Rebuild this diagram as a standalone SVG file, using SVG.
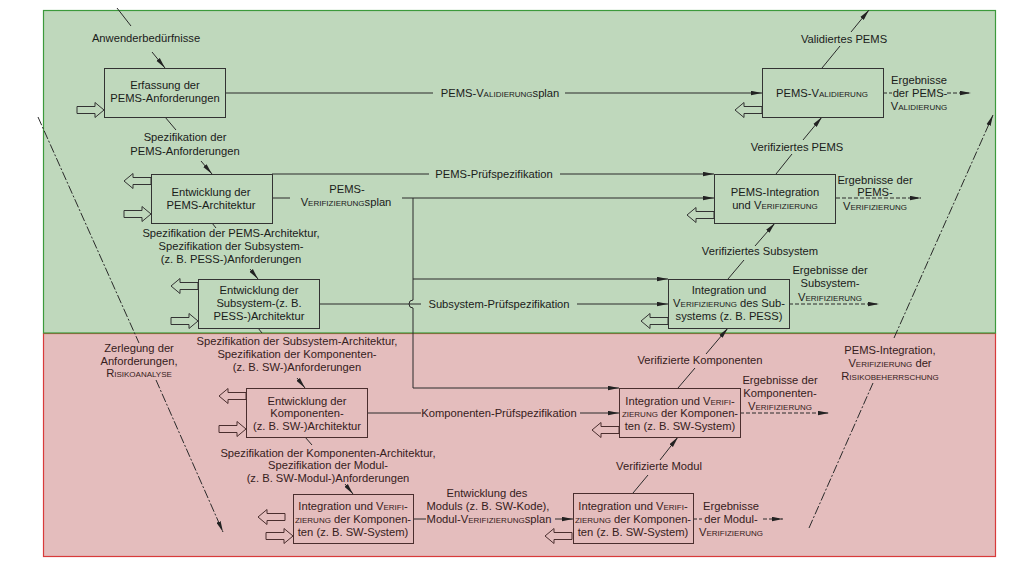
<svg xmlns="http://www.w3.org/2000/svg" xmlns:xlink="http://www.w3.org/1999/xlink" width="1024" height="565" viewBox="0 0 1024 565">
<style>
.t{font-family:"Liberation Sans",Arial,sans-serif;font-size:11.2px;text-anchor:middle;fill:#1a201a}
.rd .t{fill:#362020}
.sc{font-variant:small-caps}
.box{fill:none;stroke:#333;stroke-width:1}
.rd .box{stroke:#4a2e2e}
.ha{fill:none;stroke:#333;stroke-width:1}
.rd .ha{stroke:#4a2e2e}
.ln{fill:none;stroke:#2a2a2a;stroke-width:1}
.ds{stroke-dasharray:4 2}
.dd{stroke-dasharray:9 2 2 2}
</style>
<defs>
<marker id="ah" markerWidth="11" markerHeight="5" refX="11" refY="2.5" orient="auto" markerUnits="userSpaceOnUse">
<path d="M0,0.3 L11,2.5 L0,4.7 Z" fill="#222"/>
</marker>
<path id="ha" d="M-27,-3.5 H-9 V-7.5 L0,0 L-9,7.5 V3.5 H-27 Z"/>
</defs>

<g id="background">
<rect x="43.5" y="333.5" width="952" height="223" fill="#e4bdbd" stroke="#d83a3a" stroke-width="1.2"/>
<rect x="43.5" y="10.5" width="952" height="322.5" fill="#bfd8bc" stroke="#3c9a3c" stroke-width="1.2"/>
</g>

<g id="connectors">
<path class="ln" d="M117,8 L131,26"/>
<path class="ln" d="M152,52 L165,68" marker-end="url(#ah)"/>
<path class="ln" d="M165,117 L176,130"/>
<path class="ln" d="M201,161 L212,174" marker-end="url(#ah)"/>
<path class="ln" d="M225,93 H433"/>
<path class="ln" d="M565,93 H762" marker-end="url(#ah)"/>
<path class="ln" d="M822,68 L840,46"/>
<path class="ln" d="M851,32 L869,10" marker-end="url(#ah)"/>
<path class="ln ds" d="M883,93 H892"/>
<path class="ln ds" d="M947,93 H971" marker-end="url(#ah)"/>
<path class="ln" d="M776,174 L792,154"/>
<path class="ln" d="M803,140 L822,117" marker-end="url(#ah)"/>
<path class="ln" d="M272,174 H429"/>
<path class="ln" d="M560,174 H714" marker-end="url(#ah)"/>
<path class="ln" d="M272,198 H290"/>
<path class="ln" d="M402,198 H714" marker-end="url(#ah)"/>
<path class="ln" d="M413,198 V300 A4,4 0 0 0 413,308 V388 H619" marker-end="url(#ah)"/>
<path class="ln" d="M413,279 H668" marker-end="url(#ah)"/>
<path class="ln ds" d="M836,198 H921" marker-end="url(#ah)"/>
<path class="ln" d="M212,223 L216,228"/>
<path class="ln" d="M250,269 L258,279" marker-end="url(#ah)"/>
<path class="ln" d="M319,304 H421"/>
<path class="ln" d="M577,304 H668" marker-end="url(#ah)"/>
<path class="ln" d="M728,279 L744,260"/>
<path class="ln" d="M755,246 L775,223" marker-end="url(#ah)"/>
<path class="ln ds" d="M789,304 H879" marker-end="url(#ah)"/>
<path class="ln" d="M258,328 L262,333"/>
<path class="ln" d="M297,378 L305,388" marker-end="url(#ah)"/>
<path class="ln" d="M367,413 H421"/>
<path class="ln" d="M580,413 H619" marker-end="url(#ah)"/>
<path class="ln" d="M678,388 L695,368"/>
<path class="ln" d="M706,354 L728,328" marker-end="url(#ah)"/>
<path class="ln ds" d="M740,413 H829" marker-end="url(#ah)"/>
<path class="ln" d="M305,437 L312,445"/>
<path class="ln" d="M345,484 L353,494" marker-end="url(#ah)"/>
<path class="ln" d="M413,519 H426"/>
<path class="ln" d="M555,519 H573" marker-end="url(#ah)"/>
<path class="ln" d="M633,493 L648,475"/>
<path class="ln" d="M660,460 L678,437" marker-end="url(#ah)"/>
<path class="ln ds" d="M693,519 H702"/>
<path class="ln ds" d="M763,519 H783" marker-end="url(#ah)"/>
<path class="ln dd" d="M38,117 L139,343"/>
<path class="ln dd" d="M156,380 L223,532" marker-end="url(#ah)"/>
<path class="ln dd" d="M809,528 L873,383"/>
<path class="ln dd" d="M894,338 L993,115" marker-end="url(#ah)"/>
</g>

<g id="labels">
<text class="t" x="146" y="42">Anwenderbedürfnisse</text>
<text class="t" x="185" y="141">Spezifikation der</text>
<text class="t" x="185" y="155">PEMS-Anforderungen</text>
<text class="t" x="500" y="97">PEMS-<tspan class="sc">Validierung</tspan>splan</text>
<text class="t" x="844" y="43">Validiertes PEMS</text>
<text class="t" x="919" y="84">Ergebnisse</text>
<text class="t" x="920" y="97">der PEMS-</text>
<text class="t" x="919" y="110"><tspan class="sc">Validierung</tspan></text>
<text class="t" x="797" y="151">Verifiziertes PEMS</text>
<text class="t" x="494" y="178">PEMS-Prüfspezifikation</text>
<text class="t" x="347" y="193">PEMS-</text>
<text class="t" x="346" y="206"><tspan class="sc">Verifizierung</tspan>splan</text>
<text class="t" x="875" y="184">Ergebnisse der</text>
<text class="t" x="875" y="196">PEMS-</text>
<text class="t" x="875" y="210"><tspan class="sc">Verifizierung</tspan></text>
<text class="t" x="231" y="237">Spezifikation der PEMS-Architektur,</text>
<text class="t" x="231" y="250">Spezifikation der Subsystem-</text>
<text class="t" x="231" y="263">(z. B. PESS-)Anforderungen</text>
<text class="t" x="760" y="255">Verifiziertes Subsystem</text>
<text class="t" x="830" y="274">Ergebnisse der</text>
<text class="t" x="830" y="287">Subsystem-</text>
<text class="t" x="830" y="301"><tspan class="sc">Verifizierung</tspan></text>
<text class="t" x="499" y="308">Subsystem-Prüfspezifikation</text>
<g class="rd">
<text class="t" x="139" y="352">Zerlegung der</text>
<text class="t" x="139" y="365">Anforderungen,</text>
<text class="t" x="139" y="377"><tspan class="sc">Risikoanalyse</tspan></text>
<text class="t" x="297" y="345">Spezifikation der Subsystem-Architektur,</text>
<text class="t" x="297" y="358">Spezifikation der Komponenten-</text>
<text class="t" x="297" y="371">(z. B. SW-)Anforderungen</text>
<text class="t" x="700" y="364">Verifizierte Komponenten</text>
<text class="t" x="780" y="384">Ergebnisse der</text>
<text class="t" x="780" y="397">Komponenten-</text>
<text class="t" x="780" y="410"><tspan class="sc">Verifizierung</tspan></text>
<text class="t" x="499" y="417">Komponenten-Prüfspezifikation</text>
<text class="t" x="890" y="354">PEMS-Integration,</text>
<text class="t" x="890" y="367"><tspan class="sc">Verifizierung</tspan> der</text>
<text class="t" x="890" y="380"><tspan class="sc">Risikobeherrschung</tspan></text>
<text class="t" x="328" y="457">Spezifikation der Komponenten-Architektur,</text>
<text class="t" x="328" y="469">Spezifikation der Modul-</text>
<text class="t" x="328" y="482">(z. B. SW-Modul-)Anforderungen</text>
<text class="t" x="487" y="497">Entwicklung des</text>
<text class="t" x="488" y="510">Moduls (z. B. SW-Kode),</text>
<text class="t" x="489" y="523">Modul-<tspan class="sc">Verifizierung</tspan>splan</text>
<text class="t" x="659" y="470">Verifizierte Modul</text>
<text class="t" x="731" y="510">Ergebnisse</text>
<text class="t" x="731" y="523">der Modul-</text>
<text class="t" x="731" y="536"><tspan class="sc">Verifizierung</tspan></text>
</g>
</g>

<g id="node-erfassung">
<rect class="box" x="104.5" y="68.5" width="121" height="49"/>
<text class="t" x="165" y="89">Erfassung der</text>
<text class="t" x="165" y="102">PEMS-Anforderungen</text>
<use class="ha" xlink:href="#ha" href="#ha" transform="translate(104,110)"/>
</g>

<g id="node-validierung">
<rect class="box" x="762.5" y="68.5" width="121" height="49"/>
<text class="t" x="822" y="97">PEMS-<tspan class="sc">Validierung</tspan></text>
<use class="ha" xlink:href="#ha" href="#ha" transform="translate(735,110) scale(-1,1)"/>
</g>

<g id="node-pems-architektur">
<rect class="box" x="151.5" y="174.5" width="121" height="49"/>
<text class="t" x="211" y="196">Entwicklung der</text>
<text class="t" x="211" y="209">PEMS-Architektur</text>
<use class="ha" xlink:href="#ha" href="#ha" transform="translate(124,181) scale(-1,1)"/>
<use class="ha" xlink:href="#ha" href="#ha" transform="translate(151,214)"/>
</g>

<g id="node-pems-integration">
<rect class="box" x="714.5" y="174.5" width="121" height="49"/>
<text class="t" x="775" y="196">PEMS-Integration</text>
<text class="t" x="775" y="209">und <tspan class="sc">Verifizierung</tspan></text>
<use class="ha" xlink:href="#ha" href="#ha" transform="translate(687,215) scale(-1,1)"/>
</g>

<g id="node-subsystem-architektur">
<rect class="box" x="198.5" y="279.5" width="121" height="49"/>
<text class="t" x="259" y="294">Entwicklung der</text>
<text class="t" x="259" y="307">Subsystem-(z. B.</text>
<text class="t" x="259" y="320">PESS-)Architektur</text>
<use class="ha" xlink:href="#ha" href="#ha" transform="translate(171,286) scale(-1,1)"/>
<use class="ha" xlink:href="#ha" href="#ha" transform="translate(198,321)"/>
</g>

<g id="node-subsystem-integration">
<rect class="box" x="668.5" y="279.5" width="121" height="49"/>
<text class="t" x="729" y="294">Integration und</text>
<text class="t" x="729" y="307"><tspan class="sc">Verifizierung</tspan> des Sub-</text>
<text class="t" x="729" y="320">systems (z. B. PESS)</text>
<use class="ha" xlink:href="#ha" href="#ha" transform="translate(641,321) scale(-1,1)"/>
</g>

<g id="node-komponenten-architektur" class="rd">
<rect class="box" x="246.5" y="388.5" width="121" height="49"/>
<text class="t" x="307" y="405">Entwicklung der</text>
<text class="t" x="307" y="417">Komponenten-</text>
<text class="t" x="307" y="430">(z. B. SW-)Architektur</text>
<use class="ha" xlink:href="#ha" href="#ha" transform="translate(219,396) scale(-1,1)"/>
<use class="ha" xlink:href="#ha" href="#ha" transform="translate(246,429)"/>
</g>

<g id="node-komponenten-integration" class="rd">
<rect class="box" x="619.5" y="388.5" width="121" height="49"/>
<text class="t" x="680" y="405">Integration und <tspan class="sc">Verifi-</tspan></text>
<text class="t" x="680" y="417"><tspan class="sc">zierung</tspan> der Komponen-</text>
<text class="t" x="680" y="430">ten (z. B. SW-System)</text>
<use class="ha" xlink:href="#ha" href="#ha" transform="translate(592,430) scale(-1,1)"/>
</g>

<g id="node-modul-links" class="rd">
<rect class="box" x="293.5" y="494.5" width="120" height="49"/>
<text class="t" x="353" y="510">Integration und <tspan class="sc">Verifi-</tspan></text>
<text class="t" x="353" y="523"><tspan class="sc">zierung</tspan> der Komponen-</text>
<text class="t" x="353" y="536">ten (z. B. SW-System)</text>
<use class="ha" xlink:href="#ha" href="#ha" transform="translate(258,517) scale(-1,1)"/>
<use class="ha" xlink:href="#ha" href="#ha" transform="translate(293,536)"/>
</g>

<g id="node-modul-rechts" class="rd">
<rect class="box" x="573.5" y="493.5" width="120" height="50"/>
<text class="t" x="633" y="510">Integration und <tspan class="sc">Verifi-</tspan></text>
<text class="t" x="633" y="523"><tspan class="sc">zierung</tspan> der Komponen-</text>
<text class="t" x="633" y="536">ten (z. B. SW-System)</text>
<use class="ha" xlink:href="#ha" href="#ha" transform="translate(545,536) scale(-1,1)"/>
</g>
</svg>
